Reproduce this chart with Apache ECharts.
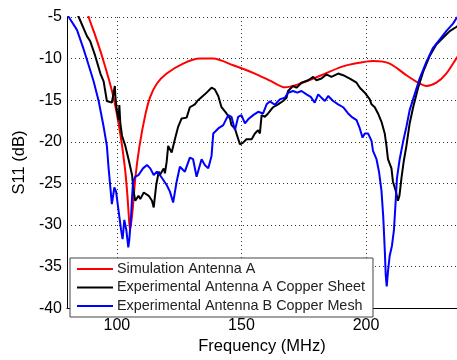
<!DOCTYPE html>
<html>
<head>
<meta charset="utf-8">
<script src="https://cdn.jsdelivr.net/npm/echarts@6/dist/echarts.min.js"></script>
<style>
  html, body { margin: 0; padding: 0; background: #fff; }
  #chart { width: 457px; height: 360px; }
</style>
</head>
<body>
<div id="chart"></div>
<script>
// Return loss of the antennas, frequency in MHz, S11 in dB
const simFreq = [86, 88.7, 91.4, 94, 96.7, 98.7, 100.7, 102.1, 103.4, 104.3, 105, 105.3, 106.3, 107.4, 109.1, 111.4, 113.4, 116.1, 120, 126.6, 133.3, 138.7, 146.7, 155.4, 162.1, 167.4, 172.7, 182.1, 190.1, 195.5, 202.7, 209.5, 216.2, 220.9, 224.2, 228.2, 232.2, 236.2, 238];
const simS11 = [-2, -5.0, -7.3, -9.65, -12.4, -14.7, -17.8, -20.5, -23.6, -26.7, -29.8, -30.6, -28.3, -24.4, -20.5, -16.8, -14.6, -13.0, -11.8, -10.6, -10.0, -10.0, -10.8, -11.8, -12.75, -13.45, -13.1, -12.0, -11.0, -10.6, -10.3, -10.6, -12.0, -12.9, -13.3, -12.9, -11.8, -10.0, -9.2];

const sheetFreq = [82, 84.7, 88.0, 89.3, 91.3, 93.4, 94.7, 96.0, 98.0, 99.2, 99.4, 100.0, 100.7, 101.0, 101.4, 102.1, 103.4, 104.7, 106.1, 106.7, 107.4, 108.7, 109.4, 110.8, 112.8, 114.1, 114.8, 115.8, 116.8, 117.3, 118.8, 119.3, 120.0, 120.6, 122.0, 123.3, 124.6, 126.0, 128.0, 129.3, 131.3, 132.6, 135.3, 138.0, 139.3, 140.7, 142.0, 144.0, 145.4, 146.0, 147.4, 148.3, 149.4, 150.7, 152.0, 154.1, 155.4, 156.7, 157.4, 158.1, 159.4, 160.7, 162.7, 164.7, 166.7, 168.1, 168.7, 170.7, 172.1, 174.1, 176.8, 178.8, 180.1, 182.1, 184.1, 186.1, 188.8, 190.8, 193.5, 196.2, 197.5, 199.5, 201.5, 202.2, 203.5, 204.8, 206.2, 207.5, 208.2, 208.8, 210.2, 210.8, 211.9, 212.8, 213.4, 214.2, 215.1, 216.2, 217.5, 218.9, 220.9, 222.9, 225.6, 228.2, 230.9, 233.6, 236.2, 238];
const sheetS11 = [-3.5, -5.0, -7.3, -7.9, -9.65, -11.8, -12.75, -15.1, -15.3, -13.3, -14.5, -16.2, -17.4, -15.6, -17.8, -19.3, -20.5, -22.1, -24.0, -25.9, -27.1, -26.5, -26.9, -26.1, -26.5, -27.1, -27.9, -25.2, -23.6, -24.0, -23.2, -23.8, -22.4, -20.5, -21.3, -19.7, -18.2, -17.2, -17.1, -15.85, -15.5, -15.0, -14.3, -13.5, -13.7, -14.5, -15.85, -16.6, -17.2, -18.0, -18.4, -19.3, -20.3, -20.1, -19.7, -19.7, -19.0, -18.6, -19.0, -16.8, -17.0, -16.6, -15.85, -15.5, -15.1, -14.7, -13.9, -13.3, -13.5, -12.9, -12.6, -12.2, -12.6, -12.4, -11.9, -12.2, -11.8, -12.0, -12.4, -12.9, -13.5, -14.1, -14.9, -15.5, -15.85, -16.6, -17.6, -19.0, -20.5, -22.1, -23.2, -24.8, -25.9, -27.1, -26.5, -24.4, -22.4, -20.5, -17.8, -15.85, -13.5, -11.6, -9.65, -8.3, -7.5, -6.7, -6.2, -5.8];

const meshFreq = [79, 80.7, 84.0, 86.7, 88.7, 90.7, 92.7, 94.7, 96.0, 96.7, 97.4, 98.0, 99.0, 99.7, 100.7, 101.7, 102.3, 103.0, 103.8, 104.6, 105.0, 105.7, 106.1, 106.5, 107.4, 108.7, 110.5, 112.1, 113.4, 114.8, 116.1, 117.3, 118.1, 120.0, 121.3, 122.6, 124.0, 125.3, 127.3, 129.3, 130.6, 132.0, 134.0, 135.3, 136.7, 138.0, 138.7, 140.7, 142.7, 144.7, 146.0, 147.4, 148.7, 150.0, 151.4, 152.7, 154.7, 156.7, 157.4, 158.7, 160.1, 161.4, 163.4, 165.4, 167.4, 168.7, 170.7, 172.4, 174.1, 176.1, 177.8, 179.4, 180.8, 182.1, 183.5, 184.8, 186.8, 188.8, 190.8, 192.8, 194.2, 196.2, 197.5, 198.6, 199.5, 200.8, 202.2, 202.8, 204.2, 205.2, 206.2, 206.9, 207.5, 207.9, 208.3, 208.8, 209.5, 210.4, 211.2, 211.9, 212.4, 213.5, 214.8, 216.2, 217.5, 219.5, 221.5, 224.2, 226.9, 229.6, 232.2, 234.9, 236.2, 238];
const meshS11 = [-3.8, -5.0, -6.55, -8.9, -10.8, -12.75, -15.1, -18.2, -20.5, -23.2, -25.5, -27.5, -25.5, -26.0, -28.3, -30.6, -31.7, -29.4, -30.6, -32.7, -31.8, -29.0, -26.7, -24.8, -24.2, -24.0, -23.2, -22.8, -23.2, -24.0, -23.6, -24.0, -24.0, -25.2, -26.0, -27.3, -24.8, -23.0, -23.6, -21.9, -22.1, -24.2, -22.1, -22.8, -23.2, -21.7, -19.0, -18.4, -18.0, -16.8, -17.0, -18.6, -17.0, -16.8, -17.8, -17.3, -16.8, -16.4, -16.4, -16.6, -15.5, -15.15, -15.55, -14.9, -14.7, -14.1, -13.9, -14.1, -13.9, -14.3, -14.6, -15.3, -14.3, -14.7, -15.1, -14.5, -15.1, -15.5, -15.85, -16.6, -17.0, -17.4, -18.4, -19.5, -19.0, -19.0, -19.9, -21.1, -22.1, -23.6, -25.9, -29.0, -32.9, -36.0, -37.4, -35.6, -33.7, -32.5, -30.6, -27.1, -24.4, -22.1, -20.1, -18.2, -16.2, -14.3, -12.4, -10.4, -8.7, -7.7, -6.7, -5.8, -5.2, -4.6];

const freqTicks = [100, 150, 200];
const seriesNames = ['Simulation Antenna A', 'Experimental Antenna A Copper Sheet', 'Experimental Antenna B Copper Mesh'];

function pairs(xs, ys) { return xs.map((x, i) => [x, ys[i]]); }

const font = '"Liberation Sans", Arial, sans-serif';
const chart = echarts.init(document.getElementById('chart'), null, { renderer: 'canvas' });

const lineSeries = (name, data, color, smooth) => ({
  name, type: 'line', data, showSymbol: false, symbol: 'none', smooth,
  lineStyle: { color, width: 2 }, itemStyle: { color },
  clip: true, animation: false, z: 3
});

chart.setOption({
  animation: false,
  backgroundColor: '#fff',
  grid: { left: 67, right: 0, top: 17, bottom: 42, containLabel: false },
  xAxis: {
    type: 'value', min: 80, max: 236.5,
    name: 'Frequency (MHz)', nameLocation: 'middle', nameGap: 28,
    nameTextStyle: { fontFamily: font, fontSize: 16.5, color: '#000' },
    axisLine: { show: true, lineStyle: { color: '#000', width: 1 } },
    axisTick: { show: false, customValues: freqTicks },
    axisLabel: { customValues: freqTicks, fontFamily: font, fontSize: 16, color: '#000', margin: 9 },
    splitLine: { show: true, lineStyle: { color: '#333', type: [1, 3], width: 1 } }
  },
  yAxis: {
    type: 'value', min: -40, max: -5, interval: 5,
    name: 'S11 (dB)', nameLocation: 'middle', nameGap: 34, nameRotate: 90,
    nameTextStyle: { fontFamily: font, fontSize: 16.5, color: '#000' },
    axisLine: { show: true, lineStyle: { color: '#000', width: 1 } },
    axisTick: { show: false },
    axisLabel: { fontFamily: font, fontSize: 16, color: '#000', margin: 5 },
    splitLine: { show: true, lineStyle: { color: '#333', type: [1, 3], width: 1 } }
  },
  legend: {
    orient: 'vertical', left: 70, top: 258,
    data: seriesNames,
    icon: 'rect', itemWidth: 36, itemHeight: 2, itemGap: 4.5,
    padding: [4, 8, 4, 7],
    backgroundColor: '#fff', borderColor: '#444', borderWidth: 1,
    textStyle: { fontFamily: font, fontSize: 14.4, color: '#222', lineHeight: 14, padding: [0, 0, 0, -1] }
  },
  series: [
    lineSeries(seriesNames[0], pairs(simFreq, simS11), '#ff0000', 0.25),
    lineSeries(seriesNames[1], pairs(sheetFreq, sheetS11), '#000000', false),
    lineSeries(seriesNames[2], pairs(meshFreq, meshS11), '#0000ff', false)
  ]
});
</script>
</body>
</html>
